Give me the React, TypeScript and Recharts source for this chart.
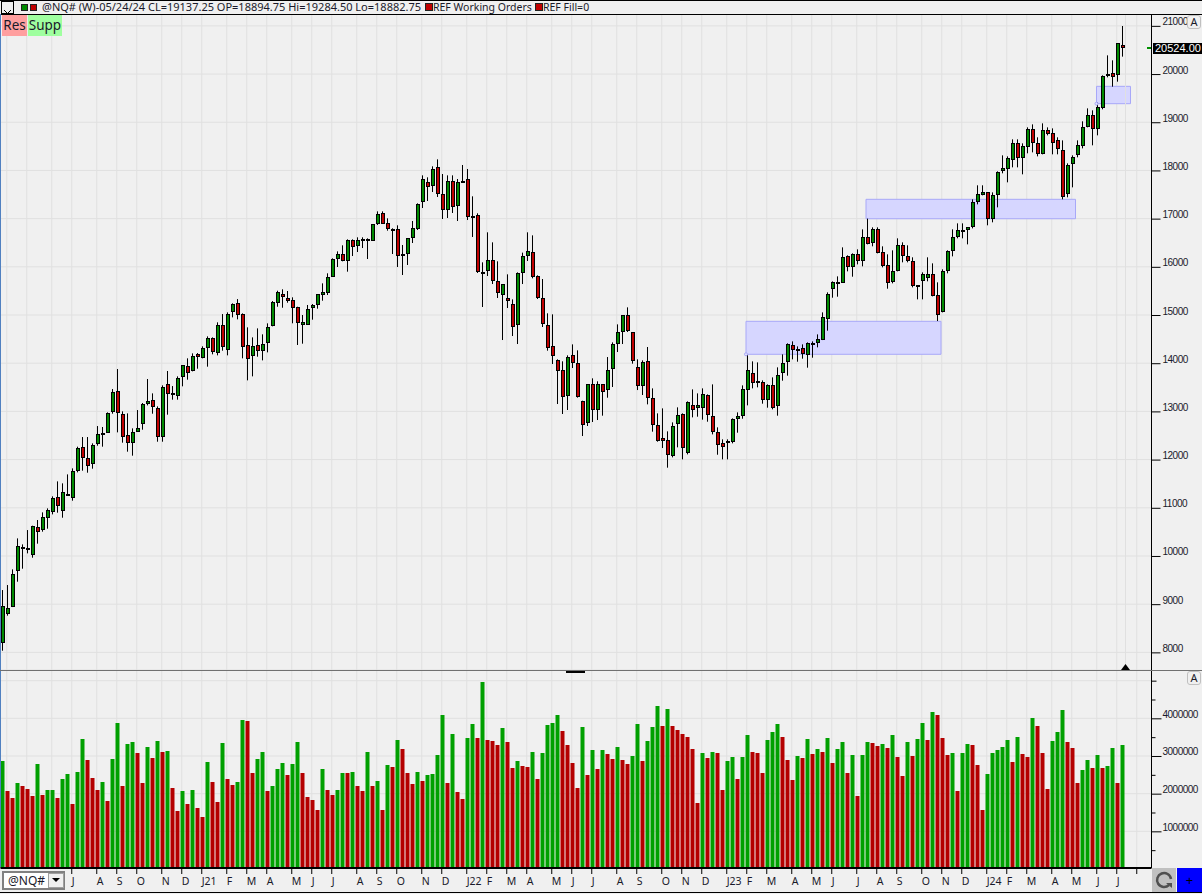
import React from 'react';
import {
  ComposedChart, Bar, Cell, XAxis, YAxis, CartesianGrid, ReferenceArea, ReferenceDot, ReferenceLine,
} from 'recharts';

const opens = [
  8207,8809,8954,9701,10172,10137,10033,10594,10552,10801,
  10926,11216,10946,11258,11216,11776,12254,12025,11922,12351,
  12523,12565,13001,13416,12938,12503,12357,12586,12752,13167,
  13229,13063,12482,13561,13374,13333,13727,13935,13852,14184,
  14121,14329,14516,14225,14785,14287,15076,15242,15014,14370,
  14163,14370,14267,14433,14785,15264,15430,15347,15305,15160,
  14820,14820,15159,15221,15443,15484,15816,16176,16259,16134,
  16549,16446,16549,16549,16549,16902,17110,16902,16778,16778,
  16259,16280,16612,16799,17359,17753,17691,18064,17504,17193,
  17774,17276,17774,17815,17048,17068,15885,15927,16134,15699,
  15429,15346,15221,14806,15885,16238,16300,15802,15346,14786,
  14350,14059,13852,13333,14163,13997,13222,12773,13561,13043,
  13561,13471,13893,14412,14661,14993,14640,13914,13540,14038,
  13270,12710,12440,12399,12088,12752,12938,12150,13125,13084,
  13084,13333,12897,12565,12337,12357,12378,12855,12918,13457,
  13789,13623,13602,13250,13540,13125,13810,14038,14370,14287,
  14308,14183,14412,14432,14495,14930,15553,15678,15678,16217,
  16010,16259,16134,16611,16508,16777,16300,16030,15698,15927,
  16446,16217,16114,15616,15719,15782,15844,15408,15076,15927,
  16342,16632,16743,16778,16840,17359,17504,17545,17006,17504,
  18002,18043,18230,18562,18272,18500,18853,18562,18355,18832,
  18770,18624,18417,17525,18147,18334,18521,18915,19143,18873,
  19309,19973,20015,19994,20596,
];
const highs = [
  9293,9397,9722,10365,10241,10538,10628,10746,10905,10988,
  11237,11548,11507,11693,11818,12268,12468,12468,12337,12696,
  12676,12980,13464,13879,13001,12959,12648,13028,13174,13672,
  13374,13104,13540,13838,13526,13727,13955,14101,14204,14211,
  14350,14557,14536,14848,15020,15055,15242,15330,15034,14744,
  14536,14723,14599,14827,15290,15504,15533,15498,15367,15172,
  15000,15208,15228,15429,15657,15865,16176,16321,16446,16570,
  16570,16612,16612,16591,16882,17151,17151,17006,16799,16861,
  16453,16591,16951,17317,17898,17857,18085,18230,17926,17898,
  17898,17822,18113,18030,17463,17110,16093,16716,16508,16114,
  15636,15844,15325,15885,16294,16716,16653,15823,15747,15035,
  15014,14080,14039,14163,14391,14267,13222,13561,13686,13624,
  13561,14128,14432,14806,14993,15159,14640,14080,14059,14336,
  13478,12959,13063,12586,12772,13084,12959,13208,13457,13374,
  13478,13353,13561,12669,12420,12420,12855,12980,13540,14183,
  14038,14017,13644,13561,13706,13914,14183,14412,14453,14349,
  14391,14432,14453,14598,15055,15470,15698,15802,16404,16238,
  16279,16362,16777,17000,16819,16819,16425,16259,16342,16591,
  16508,16446,16197,15616,15885,16197,16072,15678,15948,16342,
  16778,16902,16902,16819,17400,17691,17691,17545,17545,17981,
  18313,18292,18645,18645,18562,18894,18956,18687,18977,18894,
  18873,18687,18624,18147,18313,18624,19019,19288,19247,19413,
  19973,20388,20285,20637,20997,
];
const lows = [
  8034,8761,8940,9466,9736,10054,9964,10255,10504,10566,
  10863,10898,10794,11251,11147,11735,11770,11728,11811,12288,
  12268,12558,12952,12565,12351,12164,12081,12579,12620,13125,
  12952,12371,12371,12932,13243,13243,13520,13658,13831,13886,
  14101,13928,14184,14163,14260,14163,14951,14910,14101,13644,
  13727,14135,14059,14225,14765,15172,15151,15255,14828,14378,
  14405,14793,14903,15131,15297,15415,15796,15996,16114,15899,
  16224,16307,16390,16162,16549,16868,16895,16750,16266,15996,
  15830,16038,16494,16764,17220,17366,17552,17449,16992,17013,
  17117,16951,17760,16971,16619,15872,15166,15809,15643,15353,
  14481,15145,14564,14398,15643,16121,15761,15332,14751,14260,
  13983,13153,12946,13029,13900,13285,12489,12697,12780,12821,
  12911,13284,13506,14232,14398,14647,13990,13443,13340,13146,
  12579,12371,12240,11832,12046,12254,12005,12108,12876,12890,
  12828,12786,12523,12101,12005,12005,12337,12558,12848,13125,
  13478,13499,13160,13077,13042,12911,13637,13741,14080,14031,
  14094,13907,14114,14329,14480,14675,15359,15380,15678,15906,
  15795,16051,16010,16466,16425,16279,15989,15546,15657,15906,
  16093,16093,15574,15325,15325,15699,15387,14875,15055,15865,
  16217,16591,16591,16466,16798,17296,17483,16861,16923,17234,
  17940,17753,18064,18064,17919,18355,18375,18292,18334,18728,
  18334,18334,17400,17442,17649,18272,18458,18894,18521,18728,
  19268,19932,19738,19842,20361,
];
const closes = [
  8954,8913,9618,10199,10186,10158,10614,10511,10801,10946,
  11195,11050,11320,11278,11756,12233,12046,11880,12295,12523,
  12544,12959,13395,12980,12482,12357,12565,12648,13146,13208,
  13104,12482,13499,13374,13353,13686,13955,13810,14142,14142,
  14308,14516,14246,14785,14350,15014,15221,15014,14350,14101,
  14350,14280,14391,14744,15263,15471,15388,15305,15160,14849,
  14848,15118,15201,15429,15470,15782,16155,16259,16134,16549,
  16425,16549,16570,16570,16882,17089,16902,16799,16757,16238,
  16252,16591,16799,17297,17815,17670,18023,17525,17193,17774,
  17255,17753,17767,17048,17027,15906,15879,16134,15719,15470,
  15636,15304,14765,15865,16217,16321,15802,15367,14827,14329,
  14163,13852,13312,14122,14018,13312,12731,13561,13043,13561,
  13430,13851,14391,14640,14993,14695,14059,13540,14017,13291,
  12731,12399,12399,12108,12689,12918,12254,13187,13056,13125,
  13353,12938,12586,12316,12274,12378,12835,12897,13457,13851,
  13602,13602,13250,13540,13084,13748,13997,14391,14287,14266,
  14204,14412,14391,14495,14951,15429,15678,15684,16196,16010,
  16259,16134,16611,16487,16777,16300,16030,15678,15906,16445,
  16238,16134,15616,15609,15844,15844,15408,15014,15906,16321,
  16612,16757,16757,16819,17338,17504,17545,17006,17483,17960,
  18043,18251,18562,18272,18500,18853,18583,18355,18832,18770,
  18583,18458,17462,18106,18272,18521,18894,19143,18873,19309,
  19953,19994,19953,20637,20554,
];
// volume in thousands of contracts
const volumes = [
  2867,2071,1885,2283,2204,2124,1938,2788,1965,2097,
  2097,1885,2390,2522,1726,2575,3452,2894,2416,2097,
  2310,1805,2921,3876,2204,3319,3372,3080,2283,3239,
  2947,3398,3106,3133,2151,1540,2071,1726,2097,1620,
  1381,2841,2310,1779,3345,2390,2230,2310,3956,3929,
  2549,2921,3106,2071,2204,2655,2814,2496,2788,3372,
  2549,1912,1832,1566,2655,2097,1965,2097,2549,2549,
  2575,2204,2071,3106,2204,2336,1566,2761,2708,3425,
  3186,2549,2257,2575,2336,2496,2522,3027,4089,2283,
  3584,2044,1859,3478,3850,3478,4965,3425,3398,3292,
  3744,3372,2682,2867,2735,2708,3106,2390,3080,3823,
  3876,4089,3664,3292,2814,2151,3770,2496,3159,2655,
  3159,3053,2921,3239,2894,2788,3000,3850,2867,3398,
  3770,4328,3797,4248,3797,3690,3584,3505,3186,1752,
  3080,2947,3106,3080,2097,2867,2974,2390,2974,3558,
  3106,3080,2549,3425,3637,3850,3505,2894,2363,3000,
  2947,3452,3053,3186,3106,3478,2814,3186,3372,2549,
  3027,1938,3027,3372,3345,3266,3319,3213,3558,2974,
  2469,3372,3000,3452,3876,3425,4168,4089,3478,3027,
  3080,2071,3080,3319,3292,2761,1566,2522,3080,3159,
  3239,3425,2841,3505,3053,2974,4009,3797,3080,2124,
  3398,3637,4221,3372,3213,2283,2628,2894,2682,3027,
  2682,2735,3213,2283,3292,
];
const volumeSides = (
  'GRRGRRRGRG GRGGRGGRRR GRGGRGGRRG RGRGRRGRGR RGRRGRRGGR RGGRGGGRGG ' +
  'RRRRGRRGGR GRRGRGRGRG RRRGRGGGGR GRRGGRGRRR GRRGRRGRGG GGRRRRGRGR ' +
  'GRRGRRGGRG GGRGRRRRRR GRGRRGGRGG RRRGGGRRRG RGRGRGRGGR GRGGRRGRGR ' +
  'RGRGGRGRRR GRGGRRRGGG GGRGRRGRRR GGGRRRGGRG RGGRG'
).replace(/ /g, '').split('');

const monthWeeks = [1, 5, 10, 14, 19, 23, 27, 32, 36, 40, 45, 49, 53, 58, 62, 66, 71, 75, 79, 84, 88, 93, 97, 101, 105, 110, 114, 118, 123, 127, 132, 136, 140, 145, 149, 153, 158, 162, 166, 171, 175, 179, 184, 188, 192, 197, 201, 205, 210, 214, 219, 223, 227];
const monthLabels = ['', '', '', 'J', 'A', 'S', 'O', 'N', 'D', 'J21', 'F', 'M', 'A', 'M', 'J', 'J', 'A', 'S', 'O', 'N', 'D', 'J22', 'F', 'M', 'A', 'M', 'J', 'J', 'A', 'S', 'O', 'N', 'D', 'J23', 'F', 'M', 'A', 'M', 'J', 'J', 'A', 'S', 'O', 'N', 'D', 'J24', 'F', 'M', 'A', 'M', 'J', 'J', ''];
const priceTicks = [8000, 9000, 10000, 11000, 12000, 13000, 14000, 15000, 16000, 17000, 18000, 19000, 20000, 21000];
const volumeTicks = [500000, 1000000, 1500000, 2000000, 2500000, 3000000, 3500000, 4000000, 4500000, 5000000];
const volumeGrid = [1000000, 2000000, 3000000, 4000000, 5000000];

// supply/demand zones: first week, last week, top price, bottom price
const zoneStart = [148.6, 172.6, 218.7];
const zoneEnd = [187.6, 214.5, 225.5];
const zoneTop = [14869, 17401, 19745];
const zoneBottom = [14185, 16998, 19385];

const candles = opens.map((open, i) => ({ week: i, open, high: highs[i], low: lows[i], close: closes[i] }));
const volumeRows = volumes.map((v, i) => ({ week: i, volume: v * 1000, side: volumeSides[i] }));
const gridWeeks = monthWeeks.map((w) => w - 0.25);

const FONT = '"Noto Sans", "Liberation Sans", sans-serif';
const AXIS_FONT = '"Liberation Sans", sans-serif';
const WEEK_DOMAIN = [-0.5, 229.7];
const GREEN = '#008a00';
const RED = '#c00000';
const TEXT = '#1a1a2a';

const Candle = (props: any) => {
  const { x, y, width, height, payload } = props;
  const { open, high, low, close } = payload;
  const ppp = height / (high - low);
  const center = Math.round(x + width / 2);
  const top = Math.round(y + (high - Math.max(open, close)) * ppp);
  const bottom = Math.round(y + (high - Math.min(open, close)) * ppp);
  return (
    <g>
      <line x1={center - 0.5} x2={center - 0.5} y1={y} y2={y + height} stroke="#000" strokeWidth={1} />
      <rect
        x={center - 1.5}
        y={top + 0.5}
        width={3}
        height={Math.max(bottom - top, 1)}
        fill={close >= open ? GREEN : RED}
        stroke="#000"
        strokeWidth={1}
      />
    </g>
  );
};

const PriceTick = ({ x, y, payload }: any) => (
  <g>
    <line x1={x} x2={x + 9} y1={y + 0.5} y2={y + 0.5} stroke="#000" />
    <text x={x + 11} y={y - 4} dy="0.35em" fontSize={10} letterSpacing={-0.5} fontFamily={AXIS_FONT} fill={TEXT}>{payload.value}</text>
  </g>
);

const VolumeTick = ({ x, y, payload }: any) => {
  const major = payload.value % 1000000 === 0;
  const labeled = major && payload.value < 5000000;
  return (
    <g>
      <line x1={x} x2={x + (labeled ? 10 : major ? 5 : 4)} y1={y + 0.5} y2={y + 0.5} stroke="#000" />
      {labeled && (
        <text x={x + 11} y={y - 4} dy="0.35em" fontSize={10} letterSpacing={-0.5} fontFamily={AXIS_FONT} fill={TEXT}>{payload.value}</text>
      )}
    </g>
  );
};

const MonthTick = ({ x, y, payload }: any) => {
  const label = monthLabels[gridWeeks.indexOf(payload.value)];
  return (
    <g>
      <line x1={x} x2={x} y1={y} y2={y + 6} stroke="#000" />
      <text x={x} y={y + 15} dy="0.2em" fontSize={10.5} fontFamily={FONT} fill={TEXT}>{label}</text>
    </g>
  );
};

const box = (left: number, top: number, width: number, height: number, extra: any = {}) => ({
  position: 'absolute' as const, left, top, width, height, boxSizing: 'border-box' as const, ...extra,
});

const headerText = { fontSize: 11, lineHeight: '14px', whiteSpace: 'nowrap', color: TEXT };

export default function App() {
  return (
    <div style={box(0, 0, 1202, 894, { background: '#f0f0f0', overflow: 'hidden', fontFamily: FONT })}>
      <div style={box(0, 14, 1202, 656)}>
        <ComposedChart width={1202} height={656} data={candles} margin={{ top: 0, right: 0, bottom: 0, left: 0.5 }}>
          <CartesianGrid stroke="#e0e0e0" strokeWidth={1} />
          <XAxis dataKey="week" type="number" domain={WEEK_DOMAIN} ticks={gridWeeks} interval={0} hide />
          <YAxis
            orientation="right"
            width={50.5}
            domain={[7634, 21246]}
            ticks={priceTicks}
            interval={0}
            tickLine={false}
            tickSize={0}
            tickMargin={0}
            axisLine={{ stroke: '#000' }}
            tick={<PriceTick />}
          />
          <ReferenceLine x={224.5} stroke="#e0e0e0" />
          {zoneStart.map((start, i) => (
            <ReferenceArea
              key={`zone-${i}`}
              x1={start}
              x2={zoneEnd[i]}
              y1={zoneBottom[i]}
              y2={zoneTop[i]}
              fill="#d6d6ff"
              fillOpacity={1}
              stroke="#a8a8f8"
            />
          ))}
          <ReferenceDot x={zoneStart[0]} y={zoneBottom[0]} r={1.5} fill="#e4e4ff" stroke="#a8a8f8" />
          <ReferenceDot x={zoneStart[2]} y={zoneBottom[2]} r={1.5} fill="#e4e4ff" stroke="#a8a8f8" />
          <Bar dataKey={(d: any) => [d.low, d.high]} barSize={4} shape={<Candle />} isAnimationActive={false} />
        </ComposedChart>
      </div>

      <div style={box(0, 670, 1202, 222)}>
        <ComposedChart width={1202} height={222} data={volumeRows} margin={{ top: 0, right: 0, bottom: 0, left: 0.5 }}>
          <CartesianGrid stroke="#e0e0e0" strokeWidth={1} horizontalValues={volumeGrid} />
          <XAxis
            dataKey="week"
            type="number"
            domain={WEEK_DOMAIN}
            ticks={gridWeeks}
            interval={0}
            height={24}
            tickLine={false}
            tickSize={0}
            tickMargin={0}
            axisLine={{ stroke: '#000', strokeWidth: 2 }}
            tick={<MonthTick />}
          />
          <YAxis
            orientation="right"
            width={50.5}
            domain={[26500, 5283000]}
            ticks={volumeTicks}
            interval={0}
            tickLine={false}
            tickSize={0}
            tickMargin={0}
            axisLine={{ stroke: '#000' }}
            tick={<VolumeTick />}
          />
          <Bar dataKey="volume" barSize={4} isAnimationActive={false}>
            {volumeRows.map((row) => (
              <Cell key={`vol-${row.week}`} fill={row.side === 'G' ? '#00a000' : '#b40000'} />
            ))}
          </Bar>
        </ComposedChart>
      </div>

      {/* title strip */}
      <div style={box(0, 0, 1202, 15, { background: '#f0f0f0', borderBottom: '1px solid #000', borderTop: '1px solid #000' })} />
      <div style={box(1, 1, 13, 13, { border: '1px solid #000' })}>
        <svg width={11} height={11}>
          <path d="M2 2 L9 9 M9 2 L2 9" stroke="#000" strokeWidth={1} fill="none" />
        </svg>
      </div>
      <div style={box(21, 4, 7, 7, { background: GREEN, border: '1px solid #222' })} />
      <div style={box(30, 4, 7, 7, { background: RED, border: '1px solid #222' })} />
      <div style={box(42, 0, 380, 15, headerText)}>
        @NQ# (W)-05/24/24 CL=19137.25 OP=18894.75 Hi=19284.50 Lo=18882.75
      </div>
      <div style={box(425, 3, 8, 8, { background: RED, border: '1px solid #222' })} />
      <div style={box(433, 0, 100, 15, { ...headerText, fontSize: 10.5 })}>REF Working Orders</div>
      <div style={box(535, 3, 8, 8, { background: RED, border: '1px solid #222' })} />
      <div style={box(543, 0, 60, 15, { ...headerText, fontSize: 10.5 })}>REF Fill=0</div>

      {/* Res / Supp buttons */}
      <div style={box(2, 15, 25, 21, { background: '#ff9f9f', fontSize: 13.5, lineHeight: '21px', textAlign: 'center', color: TEXT })}>Res</div>
      <div style={box(28, 15, 34, 21, { background: '#9fff9f', fontSize: 13.5, lineHeight: '21px', textAlign: 'center', color: TEXT })}>Supp</div>

      {/* left edge, pane separator, markers */}
      <div style={box(0, 14, 1, 853, { background: '#5080c0' })} />
      <div style={box(0, 670, 1202, 1, { background: '#707070' })} />
      <div style={box(566, 671, 19, 2, { background: '#000' })} />
      <div style={box(1121, 664, 9, 6, { background: '#000', clipPath: 'polygon(50% 0, 100% 100%, 0 100%)' })} />

      {/* last price */}
      <div style={box(1147, 47, 4, 2, { background: '#009000' })} />
      <div style={box(1153, 43, 49, 11, { background: '#000', color: '#fff', fontFamily: AXIS_FONT, fontSize: 11, lineHeight: '11px', whiteSpace: 'nowrap', paddingLeft: 2 })}>20524.00</div>

      {/* scale buttons */}
      <div style={box(1187, 671, 14, 14, { background: '#f0f0f0', border: '1px solid #c0c0c0', borderRadius: 3, fontSize: 11, lineHeight: '12px', textAlign: 'center', color: TEXT })}>A</div>
      <div style={box(1187, 15, 14, 14, { background: '#f0f0f0', border: '1px solid #c0c0c0', borderRadius: 3, fontSize: 11, lineHeight: '12px', textAlign: 'center', color: TEXT })}>A</div>

      {/* symbol box */}
      <div style={box(0, 869, 66, 23, { background: '#f0f0f0' })} />
      <div style={box(2, 871, 63, 19, { background: '#fff', border: '2px solid #808080', fontSize: 12, lineHeight: '15px', paddingLeft: 4, color: TEXT })}>@NQ#</div>
      <div style={box(48, 873, 16, 15, { background: '#f0f0f0', border: '1px solid #a0a0a0' })} />
      <div style={box(52, 878, 8, 4, { background: '#000', clipPath: 'polygon(0 0, 100% 0, 50% 100%)' })} />

      {/* bottom corner */}
      <div style={box(1152, 868, 24, 24, { background: '#c0c0c0' })}>
        <svg width={24} height={24}>
          <path d="M17 17 A7 7 0 1 1 19 11" fill="none" stroke="#505050" strokeWidth={2.5} />
          <path d="M14 15 L20 15 L20 20 Z" fill="#505050" />
        </svg>
      </div>
      <div style={box(1177, 868, 25, 24, { background: '#0000ff', color: '#000', fontSize: 13, lineHeight: '24px', textAlign: 'center' })}>+</div>
      <div style={box(0, 892, 1202, 1, { background: '#000' })} />
    </div>
  );
}
